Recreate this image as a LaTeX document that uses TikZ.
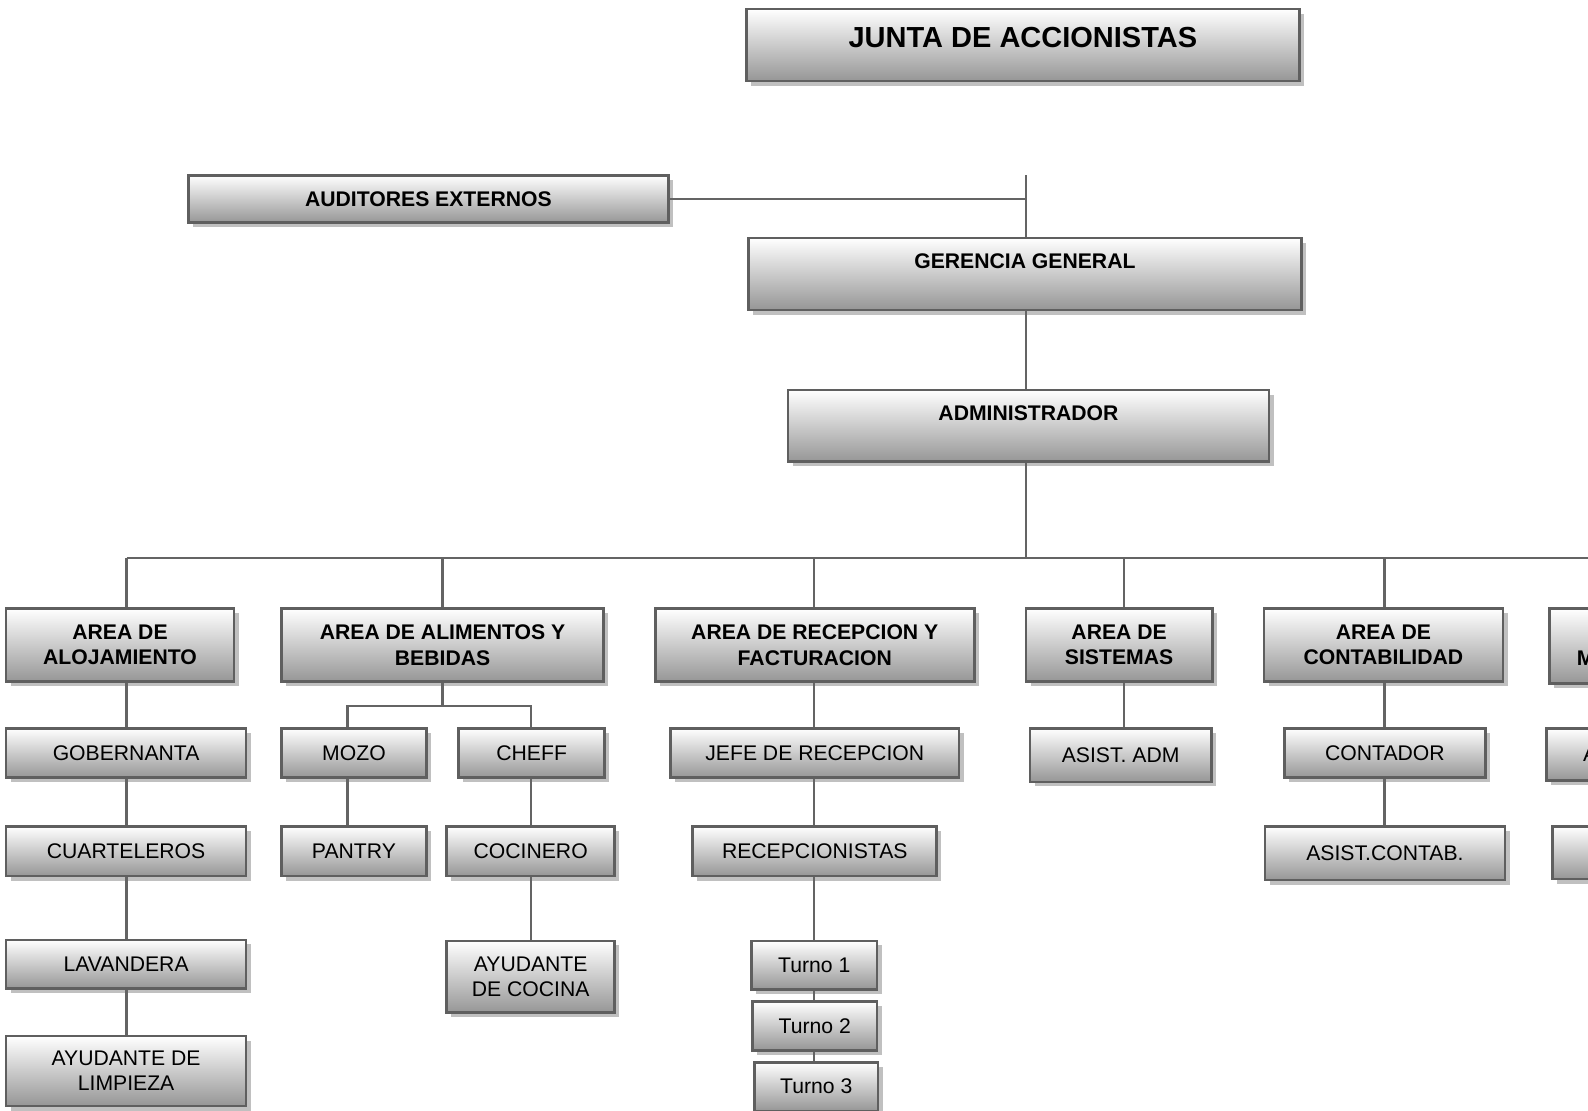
\documentclass[tikz,border=0pt]{standalone}
\usepackage{fontspec}
\setmainfont{Liberation Sans}
\usepackage{tikz}
\usetikzlibrary{shadows,calc}
\definecolor{edgecolor}{RGB}{95,95,95}
\definecolor{linkcolor}{RGB}{100,100,100}
\definecolor{shadecolor}{RGB}{150,150,150}
\definecolor{shadowcolor}{RGB}{192,192,192}
\tikzset{
  orgbox/.style={draw=edgecolor, line width=1.5pt, top color=white, bottom color=shadecolor,
    drop shadow={shadow xshift=2.6pt, shadow yshift=-2.6pt, fill=shadowcolor, opacity=1},
    inner sep=0pt, align=center, font=\fontsize{11.9}{14.2}\selectfont},
  headbox/.style={orgbox, font=\fontsize{11.9}{14.2}\selectfont\bfseries},
  linkln/.style={draw=linkcolor, line width=1.3pt},
}

\begin{document}
\begin{tikzpicture}[x=0.02cm, y=-0.02cm]
  \useasboundingbox (0,0) rectangle (1568,1097);
  \clip (0,0) rectangle (1568,1097);
  % upper levels
  \node[headbox, minimum width=10.92cm, minimum height=1.42cm, text depth=8.5pt,
    font=\fontsize{16.3}{19}\selectfont\bfseries] (junta) at (1010,44.5) {JUNTA DE ACCIONISTAS};
  \node[headbox, minimum width=9.48cm, minimum height=0.94cm] (aud) at (423,196.5) {AUDITORES EXTERNOS};
  \node[headbox, minimum width=10.92cm, minimum height=1.42cm, text depth=14.2pt] (ger) at (1012,270.5) {GERENCIA GENERAL};
  \node[headbox, minimum width=9.5cm, minimum height=1.42cm, text depth=14.2pt] (adm) at (1015.5,420.5) {ADMINISTRADOR};
  % areas
  \node[headbox, minimum width=4.5cm, minimum height=1.44cm] (aloj) at (118.5,637) {AREA DE\\ALOJAMIENTO};
  \node[headbox, minimum width=6.36cm, minimum height=1.44cm] (alim) at (437,637) {AREA DE ALIMENTOS Y\\BEBIDAS};
  \node[headbox, minimum width=6.3cm, minimum height=1.44cm] (recep) at (804.5,637) {AREA DE RECEPCION Y\\FACTURACION};
  \node[headbox, minimum width=3.68cm, minimum height=1.44cm] (sist) at (1105,637) {AREA DE\\SISTEMAS};
  \node[headbox, minimum width=4.72cm, minimum height=1.44cm] (cont) at (1366,637) {AREA DE\\CONTABILIDAD};
  \node[headbox, minimum width=4.6cm, minimum height=1.48cm] (mant) at (1645,638) {AREA DE\\MANTENIMIENTO};
  % staff
  \node[orgbox, minimum width=4.74cm, minimum height=0.98cm] (gob) at (124.5,743.5) {GOBERNANTA};
  \node[orgbox, minimum width=4.74cm, minimum height=0.98cm] (cuart) at (124.5,840.5) {CUARTELEROS};
  \node[orgbox, minimum width=4.74cm, minimum height=0.96cm] (lav) at (124.5,952) {LAVANDERA};
  \node[orgbox, minimum width=4.74cm, minimum height=1.38cm] (aylimp) at (124.5,1057.5) {AYUDANTE DE\\LIMPIEZA};
  \node[orgbox, minimum width=2.86cm, minimum height=0.98cm] (mozo) at (349.5,743.5) {MOZO};
  \node[orgbox, minimum width=2.86cm, minimum height=0.98cm] (pantry) at (349.5,840.5) {PANTRY};
  \node[orgbox, minimum width=2.88cm, minimum height=0.98cm] (cheff) at (525,743.5) {CHEFF};
  \node[orgbox, minimum width=3.32cm, minimum height=0.98cm] (cocin) at (524,840.5) {COCINERO};
  \node[orgbox, minimum width=3.32cm, minimum height=1.42cm] (ayco) at (524,964.5) {AYUDANTE\\DE COCINA};
  \node[orgbox, minimum width=5.7cm, minimum height=0.98cm] (jefe) at (804.5,743.5) {JEFE DE RECEPCION};
  \node[orgbox, minimum width=4.82cm, minimum height=0.98cm] (recepc) at (804.5,840.5) {RECEPCIONISTAS};
  \node[orgbox, minimum width=2.48cm, minimum height=0.96cm] (t1) at (804,953) {Turno 1};
  \node[orgbox, minimum width=2.46cm, minimum height=0.96cm] (t2) at (804.5,1013) {Turno 2};
  \node[orgbox, minimum width=2.44cm, minimum height=0.96cm] (t3) at (806,1073) {Turno 3};
  \node[orgbox, minimum width=3.58cm, minimum height=1.06cm] (asadm) at (1106.5,745.5) {ASIST. ADM};
  \node[orgbox, minimum width=3.98cm, minimum height=0.98cm] (contad) at (1367.5,743.5) {CONTADOR};
  \node[orgbox, minimum width=4.74cm, minimum height=1.06cm] (ascont) at (1367.5,842.5) {ASIST.CONTAB.};
  \node[orgbox, minimum width=4.72cm, minimum height=1.02cm] (asmant) at (1645,745) {ASIST. TECNICO};
  \node[orgbox, minimum width=4.48cm, minimum height=1.04cm] (consj) at (1645,842) {CONSERJERIA};
  % joints
  \coordinate (top) at (1013,173);
  \coordinate (bus) at (1013,551);
  \coordinate (colA) at (125,551);
  \coordinate (colB) at (437,551);
  \coordinate (colC) at (804,551);
  \coordinate (colD) at (1110,551);
  \coordinate (colE) at (1367,551);
  \coordinate (colF) at (1645,551);
  \coordinate (fork) at (437,697);
  \coordinate (colM) at (343,697);
  \coordinate (colK) at (524,697);
  % links
  \draw[linkln] (aud.east) -- (aud.east -| top);
  \draw[linkln] (top) -- (top |- ger.north);
  \draw[linkln] (top |- ger.south) -- (top |- adm.north);
  \draw[linkln] (top |- adm.south) -- (bus);
  \draw[linkln] (colA) -- (colF);
  \foreach \c/\n in {colA/aloj, colB/alim, colC/recep, colD/sist, colE/cont, colF/mant}
    \draw[linkln] (\c) -- (\c |- \n.north);
  \foreach \a/\b in {aloj/gob, gob/cuart, cuart/lav, lav/aylimp}
    \draw[linkln] (colA |- \a.south) -- (colA |- \b.north);
  \draw[linkln] (colB |- alim.south) -- (fork);
  \draw[linkln] (colM |- mozo.north) |- (fork) -| (colK |- cheff.north);
  \draw[linkln] (colM |- mozo.south) -- (colM |- pantry.north);
  \foreach \a/\b in {cheff/cocin, cocin/ayco}
    \draw[linkln] (colK |- \a.south) -- (colK |- \b.north);
  \foreach \a/\b in {recep/jefe, jefe/recepc, recepc/t1, t1/t2, t2/t3}
    \draw[linkln] (colC |- \a.south) -- (colC |- \b.north);
  \draw[linkln] (colD |- sist.south) -- (colD |- asadm.north);
  \foreach \a/\b in {cont/contad, contad/ascont}
    \draw[linkln] (colE |- \a.south) -- (colE |- \b.north);
  \foreach \a/\b in {mant/asmant, asmant/consj}
    \draw[linkln] (colF |- \a.south) -- (colF |- \b.north);
\end{tikzpicture}
\end{document}
